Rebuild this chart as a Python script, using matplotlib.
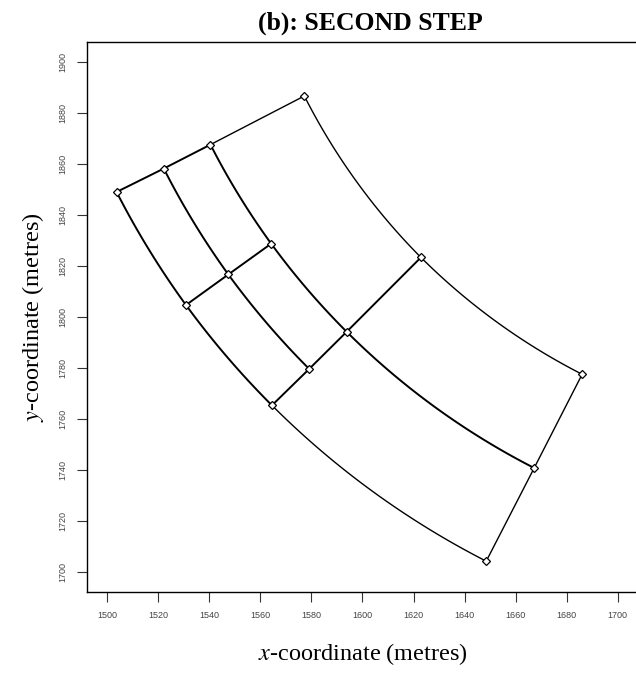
import numpy as np
import matplotlib
matplotlib.use("Agg")
import matplotlib.pyplot as plt

# mesh nodes (metres)
node_x = [1503.6, 1522.1, 1540.4, 1577.2, 1530.8, 1547.4, 1564.2,
          1593.8, 1579.1, 1564.5, 1622.9, 1686.1, 1667.3, 1648.5]
node_y = [1849.1, 1858.3, 1867.7, 1886.8, 1804.7, 1816.7, 1828.8,
          1794.2, 1779.6, 1765.3, 1823.4, 1777.5, 1740.7, 1704.1]

# common centre of the arcs
centre_x = 1800.8
centre_y = 2001.4

# edges (node i, node j) ; drawn twice in the original -> heavier
edges_heavy = [(0, 1), (1, 2), (4, 5), (5, 6), (9, 8), (8, 7), (7, 10),
               (0, 4), (4, 9), (1, 5), (5, 8), (2, 6), (6, 7), (7, 12)]
edges_light = [(2, 3), (12, 11), (13, 12), (9, 13), (3, 10), (10, 11)]

x_ticks = [1500, 1520, 1540, 1560, 1580, 1600, 1620, 1640, 1660, 1680, 1700]
y_ticks = [1700, 1720, 1740, 1760, 1780, 1800, 1820, 1840, 1860, 1880, 1900]

plt.rcParams['mathtext.fontset'] = 'stix'

fig = plt.figure(figsize=(6.36, 6.75), dpi=100)
ax = fig.add_axes([87 / 636, 83 / 675, 551 / 636, 550 / 675])


def draw_edge(i, j, lw):
    # interpolate in polar coords round the centre: arcs stay arcs,
    # radial edges stay straight
    r1 = np.hypot(node_x[i] - centre_x, node_y[i] - centre_y)
    r2 = np.hypot(node_x[j] - centre_x, node_y[j] - centre_y)
    a1 = np.arctan2(node_y[i] - centre_y, node_x[i] - centre_x)
    a2 = np.arctan2(node_y[j] - centre_y, node_x[j] - centre_x)
    t = np.linspace(0, 1, 80)
    r = r1 + (r2 - r1) * t
    a = a1 + (a2 - a1) * t
    ax.plot(centre_x + r * np.cos(a), centre_y + r * np.sin(a),
            color='black', lw=lw, solid_capstyle='round')


for i, j in edges_heavy:
    draw_edge(i, j, 1.4)
for i, j in edges_light:
    draw_edge(i, j, 1.0)

ax.plot(node_x, node_y, linestyle='none', marker='D', markersize=4,
        markerfacecolor='white', markeredgecolor='black',
        markeredgewidth=0.9, zorder=5)

ax.set_xlim(1492, 1708)
ax.set_ylim(1692, 1908)
ax.set_xticks(x_ticks)
ax.set_yticks(y_ticks)
ax.tick_params(direction='out', length=7, width=0.8, labelsize=6.5,
               pad=7, color='#333333', labelcolor='#444444')
for lab in ax.get_xticklabels() + ax.get_yticklabels():
    lab.set_family('Liberation Sans')
for lab in ax.get_yticklabels():
    lab.set_rotation(90)
    lab.set_va('center')
for s in ax.spines.values():
    s.set_linewidth(1.0)

ax.set_xlabel('$x$-coordinate (metres)', family='Liberation Serif',
              fontsize=17.5, labelpad=15)
ax.set_ylabel('$y$-coordinate (metres)', family='Liberation Serif',
              fontsize=17.5, labelpad=9)
fig.text(370 / 636, 1 - 23 / 675, '(b): SECOND STEP', family='Liberation Serif',
         fontweight='bold', fontsize=18.5, ha='center', va='center')

fig.savefig('out.png', dpi=100)
